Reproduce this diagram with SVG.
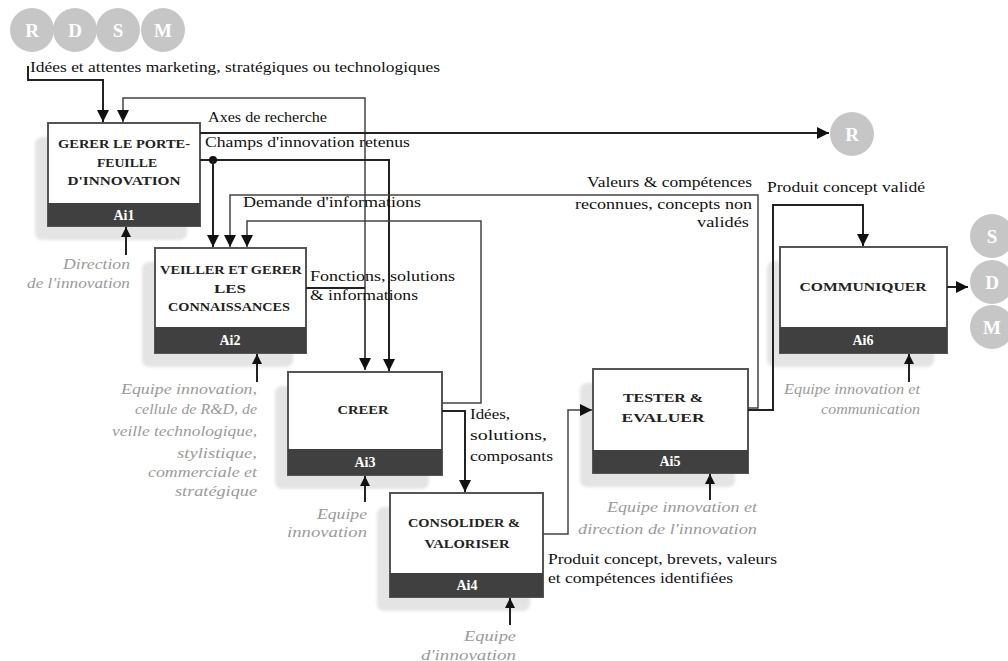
<svg xmlns="http://www.w3.org/2000/svg" width="1008" height="661" viewBox="0 0 1008 661">
<style>
.sh{fill:#e4e4e4}
.bx{fill:#fff;stroke:#555;stroke-width:2}
.bd{fill:#404040}
.bt{font-family:"Liberation Serif",serif;font-weight:bold;font-size:12px;fill:#222;text-anchor:middle}
.id{font-family:"Liberation Serif",serif;font-weight:bold;font-size:14px;fill:#fff;text-anchor:middle}
.lb{font-family:"Liberation Serif",serif;font-size:14px;fill:#111}
.ct{font-family:"Liberation Serif",serif;font-style:italic;font-size:14px;fill:#9a9a9a;text-anchor:end}
.ln{fill:none;stroke:#222;stroke-width:2}
.lt{fill:none;stroke:#444;stroke-width:1.5}
.cc{fill:#c6c6c6}
.cl{font-family:"Liberation Serif",serif;font-weight:bold;font-size:19px;fill:#fff;text-anchor:middle}
</style>
<defs>
<marker id="ar" viewBox="0 0 10 10" refX="10" refY="5" markerWidth="12" markerHeight="12" markerUnits="userSpaceOnUse" orient="auto">
<path d="M0,0 L10,5 L0,10 z" fill="#111"/>
</marker>
<marker id="ac" viewBox="0 0 10 10" refX="10" refY="5" markerWidth="10" markerHeight="16" markerUnits="userSpaceOnUse" orient="auto">
<path d="M0,0 L10,5 L0,10 z" fill="#111"/>
</marker>
<filter id="bl" x="-10%" y="-10%" width="120%" height="120%"><feGaussianBlur stdDeviation="1.5"/></filter>
</defs>

<g id="circles-top">
<circle class="cc" cx="32" cy="30" r="22"/>
<circle class="cc" cx="75" cy="30" r="22"/>
<circle class="cc" cx="118" cy="30" r="22"/>
<circle class="cc" cx="163" cy="30" r="22"/>
<text class="cl" x="32" y="37">R</text>
<text class="cl" x="75" y="37">D</text>
<text class="cl" x="118" y="37">S</text>
<text class="cl" x="163" y="37">M</text>
</g>
<g id="circle-R">
<circle class="cc" cx="852" cy="134" r="22"/>
<text class="cl" x="852" y="141">R</text>
</g>
<g id="circles-right">
<circle class="cc" cx="992" cy="236" r="22"/>
<circle class="cc" cx="992" cy="282" r="22"/>
<circle class="cc" cx="992" cy="327" r="22"/>
<text class="cl" x="992" y="243">S</text>
<text class="cl" x="992" y="289">D</text>
<text class="cl" x="992" y="334">M</text>
</g>

<g id="Ai1">
<rect class="sh" x="35" y="137" width="152" height="103" rx="7" filter="url(#bl)"/>
<rect class="bx" x="48" y="123" width="152" height="103"/>
<rect class="bd" x="48" y="203" width="152" height="23"/>
<text class="bt" x="124" y="148" textLength="132" lengthAdjust="spacingAndGlyphs">GERER LE PORTE-</text>
<text class="bt" x="127" y="167" textLength="60" lengthAdjust="spacingAndGlyphs">FEUILLE</text>
<text class="bt" x="124" y="185" textLength="113" lengthAdjust="spacingAndGlyphs">D'INNOVATION</text>
<text class="id" x="124" y="220">Ai1</text>
</g>
<g id="Ai2">
<rect class="sh" x="142" y="262" width="151" height="105" rx="7" filter="url(#bl)"/>
<rect class="bx" x="155" y="248" width="151" height="105"/>
<rect class="bd" x="155" y="327" width="151" height="26"/>
<text class="bt" x="231" y="274" textLength="142" lengthAdjust="spacingAndGlyphs">VEILLER ET  GERER</text>
<text class="bt" x="230" y="293" textLength="32" lengthAdjust="spacingAndGlyphs">LES</text>
<text class="bt" x="229" y="311" textLength="122" lengthAdjust="spacingAndGlyphs">CONNAISSANCES</text>
<text class="id" x="230" y="345">Ai2</text>
</g>
<g id="Ai3">
<rect class="sh" x="275" y="386" width="154" height="103" rx="7" filter="url(#bl)"/>
<rect class="bx" x="288" y="372" width="154" height="103"/>
<rect class="bd" x="288" y="449" width="154" height="26"/>
<text class="bt" x="363" y="414" textLength="51" lengthAdjust="spacingAndGlyphs">CREER</text>
<text class="id" x="365" y="467">Ai3</text>
</g>
<g id="Ai4">
<rect class="sh" x="377" y="507" width="153" height="104" rx="7" filter="url(#bl)"/>
<rect class="bx" x="390" y="493" width="153" height="104"/>
<rect class="bd" x="390" y="573" width="153" height="24"/>
<text class="bt" x="464" y="527" textLength="112" lengthAdjust="spacingAndGlyphs">CONSOLIDER &amp;</text>
<text class="bt" x="467" y="548" textLength="85" lengthAdjust="spacingAndGlyphs">VALORISER</text>
<text class="id" x="467" y="590">Ai4</text>
</g>
<g id="Ai5">
<rect class="sh" x="580" y="383" width="155" height="104" rx="7" filter="url(#bl)"/>
<rect class="bx" x="593" y="369" width="155" height="104"/>
<rect class="bd" x="593" y="450" width="155" height="23"/>
<text class="bt" x="663" y="402" textLength="80" lengthAdjust="spacingAndGlyphs">TESTER &amp;</text>
<text class="bt" x="663" y="422" textLength="83" lengthAdjust="spacingAndGlyphs">EVALUER</text>
<text class="id" x="670" y="466">Ai5</text>
</g>
<g id="Ai6">
<rect class="sh" x="767" y="261" width="167" height="106" rx="7" filter="url(#bl)"/>
<rect class="bx" x="780" y="247" width="167" height="106"/>
<rect class="bd" x="780" y="327" width="167" height="26"/>
<text class="bt" x="863" y="291" textLength="127" lengthAdjust="spacingAndGlyphs">COMMUNIQUER</text>
<text class="id" x="863" y="345">Ai6</text>
</g>

<g id="connectors">
<path class="ln" d="M28,66 V80 H103 V122" marker-end="url(#ar)"/>
<path class="lt" d="M365,370 V98 H123 V122" marker-end="url(#ar)"/>
<path class="lt" d="M365,300 V370" marker-end="url(#ar)"/>
<path class="ln" d="M200,133 H829" marker-end="url(#ar)"/>
<path class="ln" d="M200,160 H389 V371" marker-end="url(#ar)"/>
<circle cx="213" cy="160" r="4" fill="#111"/>
<path class="ln" d="M213,160 V247" marker-end="url(#ar)"/>
<path class="lt" d="M748,408 H758 V195 H230 V247" marker-end="url(#ar)"/>
<path class="lt" d="M442,403 H481 V221 H247 V247" marker-end="url(#ar)"/>
<path class="ln" d="M306,288 H365"/>
<path class="ln" d="M442,411 H465 V492" marker-end="url(#ar)"/>
<path class="lt" d="M543,534 H568 V410 H592" marker-end="url(#ar)"/>
<path class="ln" d="M748,410 H773 V205 H863 V246" marker-end="url(#ar)"/>
<path class="ln" d="M947,287 H968" marker-end="url(#ar)"/>
<path class="ln" d="M126,255 V227" marker-end="url(#ac)"/>
<path class="ln" d="M257,382 V354" marker-end="url(#ac)"/>
<path class="ln" d="M365,502 V476" marker-end="url(#ac)"/>
<path class="ln" d="M510,625 V598" marker-end="url(#ac)"/>
<path class="ln" d="M710,500 V474" marker-end="url(#ac)"/>
<path class="ln" d="M909,382 V354" marker-end="url(#ac)"/>
</g>

<g id="labels">
<text class="lb" x="30" y="72" textLength="410" lengthAdjust="spacingAndGlyphs">Idées et attentes marketing, stratégiques ou technologiques</text>
<text class="lb" x="208" y="122" textLength="119" lengthAdjust="spacingAndGlyphs">Axes de recherche</text>
<text class="lb" x="205" y="147" textLength="205" lengthAdjust="spacingAndGlyphs">Champs d'innovation retenus</text>
<text class="lb" x="243" y="207" textLength="178" lengthAdjust="spacingAndGlyphs">Demande d'informations</text>
<text class="lb" x="310" y="281" textLength="145" lengthAdjust="spacingAndGlyphs">Fonctions, solutions</text>
<text class="lb" x="310" y="300" textLength="108" lengthAdjust="spacingAndGlyphs">&amp; informations</text>
<text class="lb" x="587" y="187" textLength="165" lengthAdjust="spacingAndGlyphs">Valeurs &amp; compétences</text>
<text class="lb" x="575" y="209" textLength="177" lengthAdjust="spacingAndGlyphs">reconnues, concepts non</text>
<text class="lb" x="697" y="227" textLength="52" lengthAdjust="spacingAndGlyphs">validés</text>
<text class="lb" x="767" y="192" textLength="158" lengthAdjust="spacingAndGlyphs">Produit concept validé</text>
<text class="lb" x="470" y="419" textLength="40" lengthAdjust="spacingAndGlyphs">Idées,</text>
<text class="lb" x="470" y="440" textLength="77" lengthAdjust="spacingAndGlyphs">solutions,</text>
<text class="lb" x="470" y="461" textLength="83" lengthAdjust="spacingAndGlyphs">composants</text>
<text class="lb" x="548" y="564" textLength="229" lengthAdjust="spacingAndGlyphs">Produit concept, brevets, valeurs</text>
<text class="lb" x="548" y="583" textLength="185" lengthAdjust="spacingAndGlyphs">et compétences identifiées</text>
<text class="ct" x="130" y="269" textLength="67" lengthAdjust="spacingAndGlyphs">Direction</text>
<text class="ct" x="130" y="288" textLength="103" lengthAdjust="spacingAndGlyphs">de l'innovation</text>
<text class="ct" x="257" y="394" textLength="136" lengthAdjust="spacingAndGlyphs">Equipe innovation,</text>
<text class="ct" x="257" y="414" textLength="122" lengthAdjust="spacingAndGlyphs">cellule de R&amp;D, de</text>
<text class="ct" x="257" y="436" textLength="145" lengthAdjust="spacingAndGlyphs">veille technologique,</text>
<text class="ct" x="257" y="458" textLength="80" lengthAdjust="spacingAndGlyphs">stylistique,</text>
<text class="ct" x="257" y="477" textLength="109" lengthAdjust="spacingAndGlyphs">commerciale et</text>
<text class="ct" x="257" y="496" textLength="82" lengthAdjust="spacingAndGlyphs">stratégique</text>
<text class="ct" x="367" y="519" textLength="50" lengthAdjust="spacingAndGlyphs">Equipe</text>
<text class="ct" x="367" y="537" textLength="80" lengthAdjust="spacingAndGlyphs">innovation</text>
<text class="ct" x="516" y="641" textLength="52" lengthAdjust="spacingAndGlyphs">Equipe</text>
<text class="ct" x="516" y="660" textLength="95" lengthAdjust="spacingAndGlyphs">d'innovation</text>
<text class="ct" x="757" y="512" textLength="150" lengthAdjust="spacingAndGlyphs">Equipe innovation et</text>
<text class="ct" x="757" y="534" textLength="179" lengthAdjust="spacingAndGlyphs">direction de l'innovation</text>
<text class="ct" x="920" y="394" textLength="136" lengthAdjust="spacingAndGlyphs">Equipe innovation et</text>
<text class="ct" x="920" y="414" textLength="99" lengthAdjust="spacingAndGlyphs">communication</text>
</g>
</svg>
